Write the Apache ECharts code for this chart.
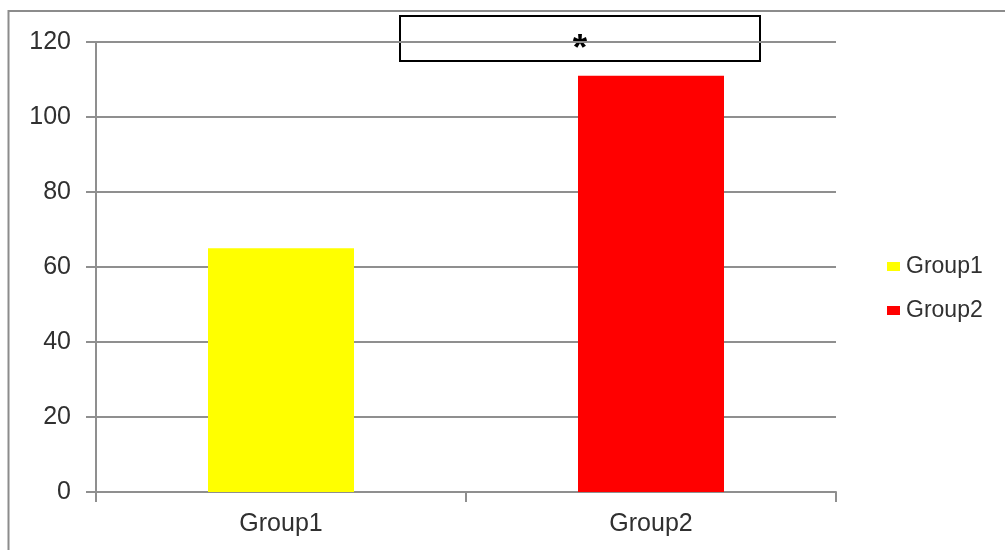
<!DOCTYPE html>
<html>
<head>
<meta charset="utf-8">
<script src="https://cdn.jsdelivr.net/npm/echarts@6/dist/echarts.min.js"></script>
<style>
  html, body { margin: 0; padding: 0; background: #fff; }
  #chart { width: 1005px; height: 550px; }
</style>
</head>
<body>
<div id="chart"></div>
<script>
// Group means and axis scale
const categories = ['Group1', 'Group2'];
const group1Values = [65, '-'];
const group2Values = ['-', 111];
const yTicks = [0, 20, 40, 60, 80, 100, 120];
const significanceMark = '*';

const gray = '#8f8f8f';
const textColor = '#303030';
const fontFamily = '"Liberation Sans", Arial, sans-serif';

const chart = echarts.init(document.getElementById('chart'), null, { renderer: 'canvas' });

chart.setOption({
  animation: false,
  backgroundColor: '#ffffff',
  grid: { left: 96, right: 169, top: 42, bottom: 58, containLabel: false },
  legend: {
    orient: 'vertical',
    left: 882,
    top: 250,
    itemWidth: 13,
    itemHeight: 9,
    itemGap: 21,
    icon: 'rect',
    textStyle: { color: textColor, fontSize: 23, fontFamily: fontFamily, padding: [0, 0, 0, 1] },
    data: ['Group1', 'Group2']
  },
  xAxis: {
    type: 'category',
    data: categories,
    boundaryGap: true,
    axisLine: { show: true, lineStyle: { color: gray, width: 2 } },
    axisTick: { show: true, length: 10, lineStyle: { color: gray, width: 2 } },
    axisLabel: { color: textColor, fontSize: 25, fontFamily: fontFamily, margin: 20 },
    splitLine: { show: false }
  },
  yAxis: {
    type: 'value',
    min: yTicks[0],
    max: yTicks[yTicks.length - 1],
    interval: yTicks[1] - yTicks[0],
    axisLine: { show: true, lineStyle: { color: gray, width: 2 } },
    axisTick: { show: true, length: 10, lineStyle: { color: gray, width: 2 } },
    axisLabel: { color: textColor, fontSize: 25, fontFamily: fontFamily, margin: 25 },
    splitLine: { show: true, lineStyle: { color: gray, width: 2 } }
  },
  series: [
    {
      name: 'Group1',
      type: 'bar',
      data: group1Values,
      barWidth: 146,
      barGap: '-100%',
      itemStyle: { color: '#ffff00' }
    },
    {
      name: 'Group2',
      type: 'bar',
      data: group2Values,
      barWidth: 146,
      barGap: '-100%',
      itemStyle: { color: '#ff0000' }
    }
  ],
  graphic: [
    // outer frame along the top and left edges
    {
      type: 'polyline',
      shape: { points: [[8.5, 560], [8.5, 11], [1010, 11]] },
      style: { stroke: '#8c8c8c', lineWidth: 2, fill: null },
      silent: true
    },
    // significance box
    {
      type: 'group',
      left: 399,
      top: 15,
      children: [
        {
          type: 'rect',
          shape: { x: 0, y: 0, width: 360, height: 45 },
          style: { fill: '#ffffff', stroke: '#000000', lineWidth: 2 }
        },
        {
          type: 'text',
          x: 180,
          y: 34,
          style: {
            text: significanceMark,
            fill: '#000000',
            font: 'bold 37px "Liberation Sans", Arial, sans-serif',
            textAlign: 'center',
            textVerticalAlign: 'middle'
          }
        }
      ]
    }
  ]
});
</script>
</body>
</html>
